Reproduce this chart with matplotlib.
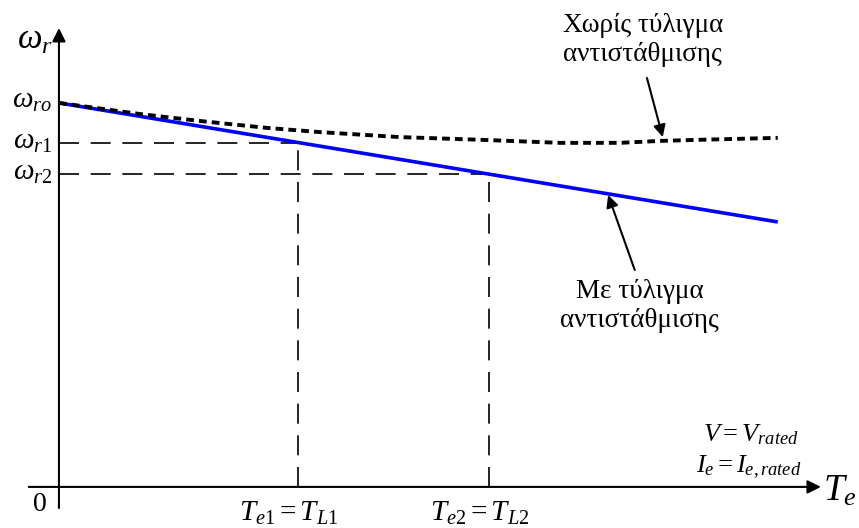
import numpy as np
import matplotlib
matplotlib.use('Agg')
import matplotlib.pyplot as plt
from matplotlib import rc

rc('font', **{'family': 'serif', 'serif': ['Liberation Serif']})
rc('mathtext', fontset='custom', rm='Liberation Serif', it='Liberation Serif:italic',
   bf='Liberation Serif:bold')

# torque (arbitrary units) and speed (per unit of w_ro)
T_line = [0, 100]
w_comp = [1.0, 0.690]          # with compensating winding
T_curve = [0, 11.3, 19.6, 28.9, 36.3, 47.4, 58.6, 69.7, 78.0, 83.6, 89.2, 100]
w_nocomp = [1.0, 0.971, 0.953, 0.935, 0.924, 0.911, 0.904, 0.896, 0.896, 0.901, 0.904, 0.909]
T_pts = [33.3, 59.8]
w_pts = [0.896, 0.815]
w_labels = [r'$\omega_{r1}$', r'$\omega_{r2}$']
T_labels = [r'$T_{e1} = T_{L1}$', r'$T_{e2} = T_{L2}$']

fig = plt.figure(figsize=(8.59, 5.28), dpi=100)
ax = fig.add_axes([0, 0, 1, 1])
ax.set_xlim(-8.2, 111.3)
ax.set_ylim(-0.107, 1.268)
ax.axis('off')

# axes with arrows
arr = dict(arrowstyle='-|>', mutation_scale=20, lw=1.5, color='k', shrinkA=0, shrinkB=0)
ax.annotate('', xy=(106.0, 0), xytext=(-4.2, 0), arrowprops=arr)
ax.annotate('', xy=(0, 1.195), xytext=(0, -0.055), arrowprops=arr)

# guide lines
for T, w in zip(T_pts, w_pts):
    ax.plot([0, T], [w, w], color='k', lw=1.2, dashes=(12, 7))
    ax.plot([T, T], [0, w], color='k', lw=1.2, dashes=(12, 7))

ax.plot(T_line, w_comp, color='#0000ff', lw=2.6, solid_capstyle='butt')
ax.plot(T_curve, w_nocomp, color='k', lw=2.8, dashes=(2.0, 1.3))

fs = 19.5
ax.text(-0.8, 1.162, r'$\omega_r$', fontsize=25, ha='right', va='center')
ax.text(-0.9, 1.005, r'$\omega_{ro}$', fontsize=21, ha='right', va='center')
for w, lab in zip(w_pts, w_labels):
    ax.text(-0.9, w + 0.002, lab, fontsize=21, ha='right', va='center')
for T, lab in zip(T_pts, T_labels):
    ax.text(T - 1.3, -0.068, lab, fontsize=21, ha='center', va='center')
ax.text(-2.6, -0.047, '0', fontsize=20, ha='center', va='center')
ax.text(106.3, -0.012, r'$T_e$', fontsize=27, ha='left', va='center')

ax.text(89.6, 0.135, r'$V = V_{rated}$', fontsize=19, ha='left', va='center')
ax.text(88.6, 0.052, r'$I_e = I_{e,rated}$', fontsize=19, ha='left', va='center')

ax.text(81.2, 1.164, 'Χωρίς τύλιγμα\nαντιστάθμισης', fontsize=fs, ha='center', va='center',
        linespacing=1.2)
ax.text(80.8, 0.471, 'Με τύλιγμα\nαντιστάθμισης', fontsize=fs, ha='center', va='center',
        linespacing=1.2)

arr2 = dict(arrowstyle='-|>', mutation_scale=18, lw=1.5, color='k', shrinkA=0, shrinkB=0)
ax.annotate('', xy=(84.0, 0.911), xytext=(81.8, 1.065), arrowprops=arr2)
ax.annotate('', xy=(76.4, 0.760), xytext=(80.1, 0.565), arrowprops=arr2)

plt.savefig('out.png', dpi=100)
plt.close()
